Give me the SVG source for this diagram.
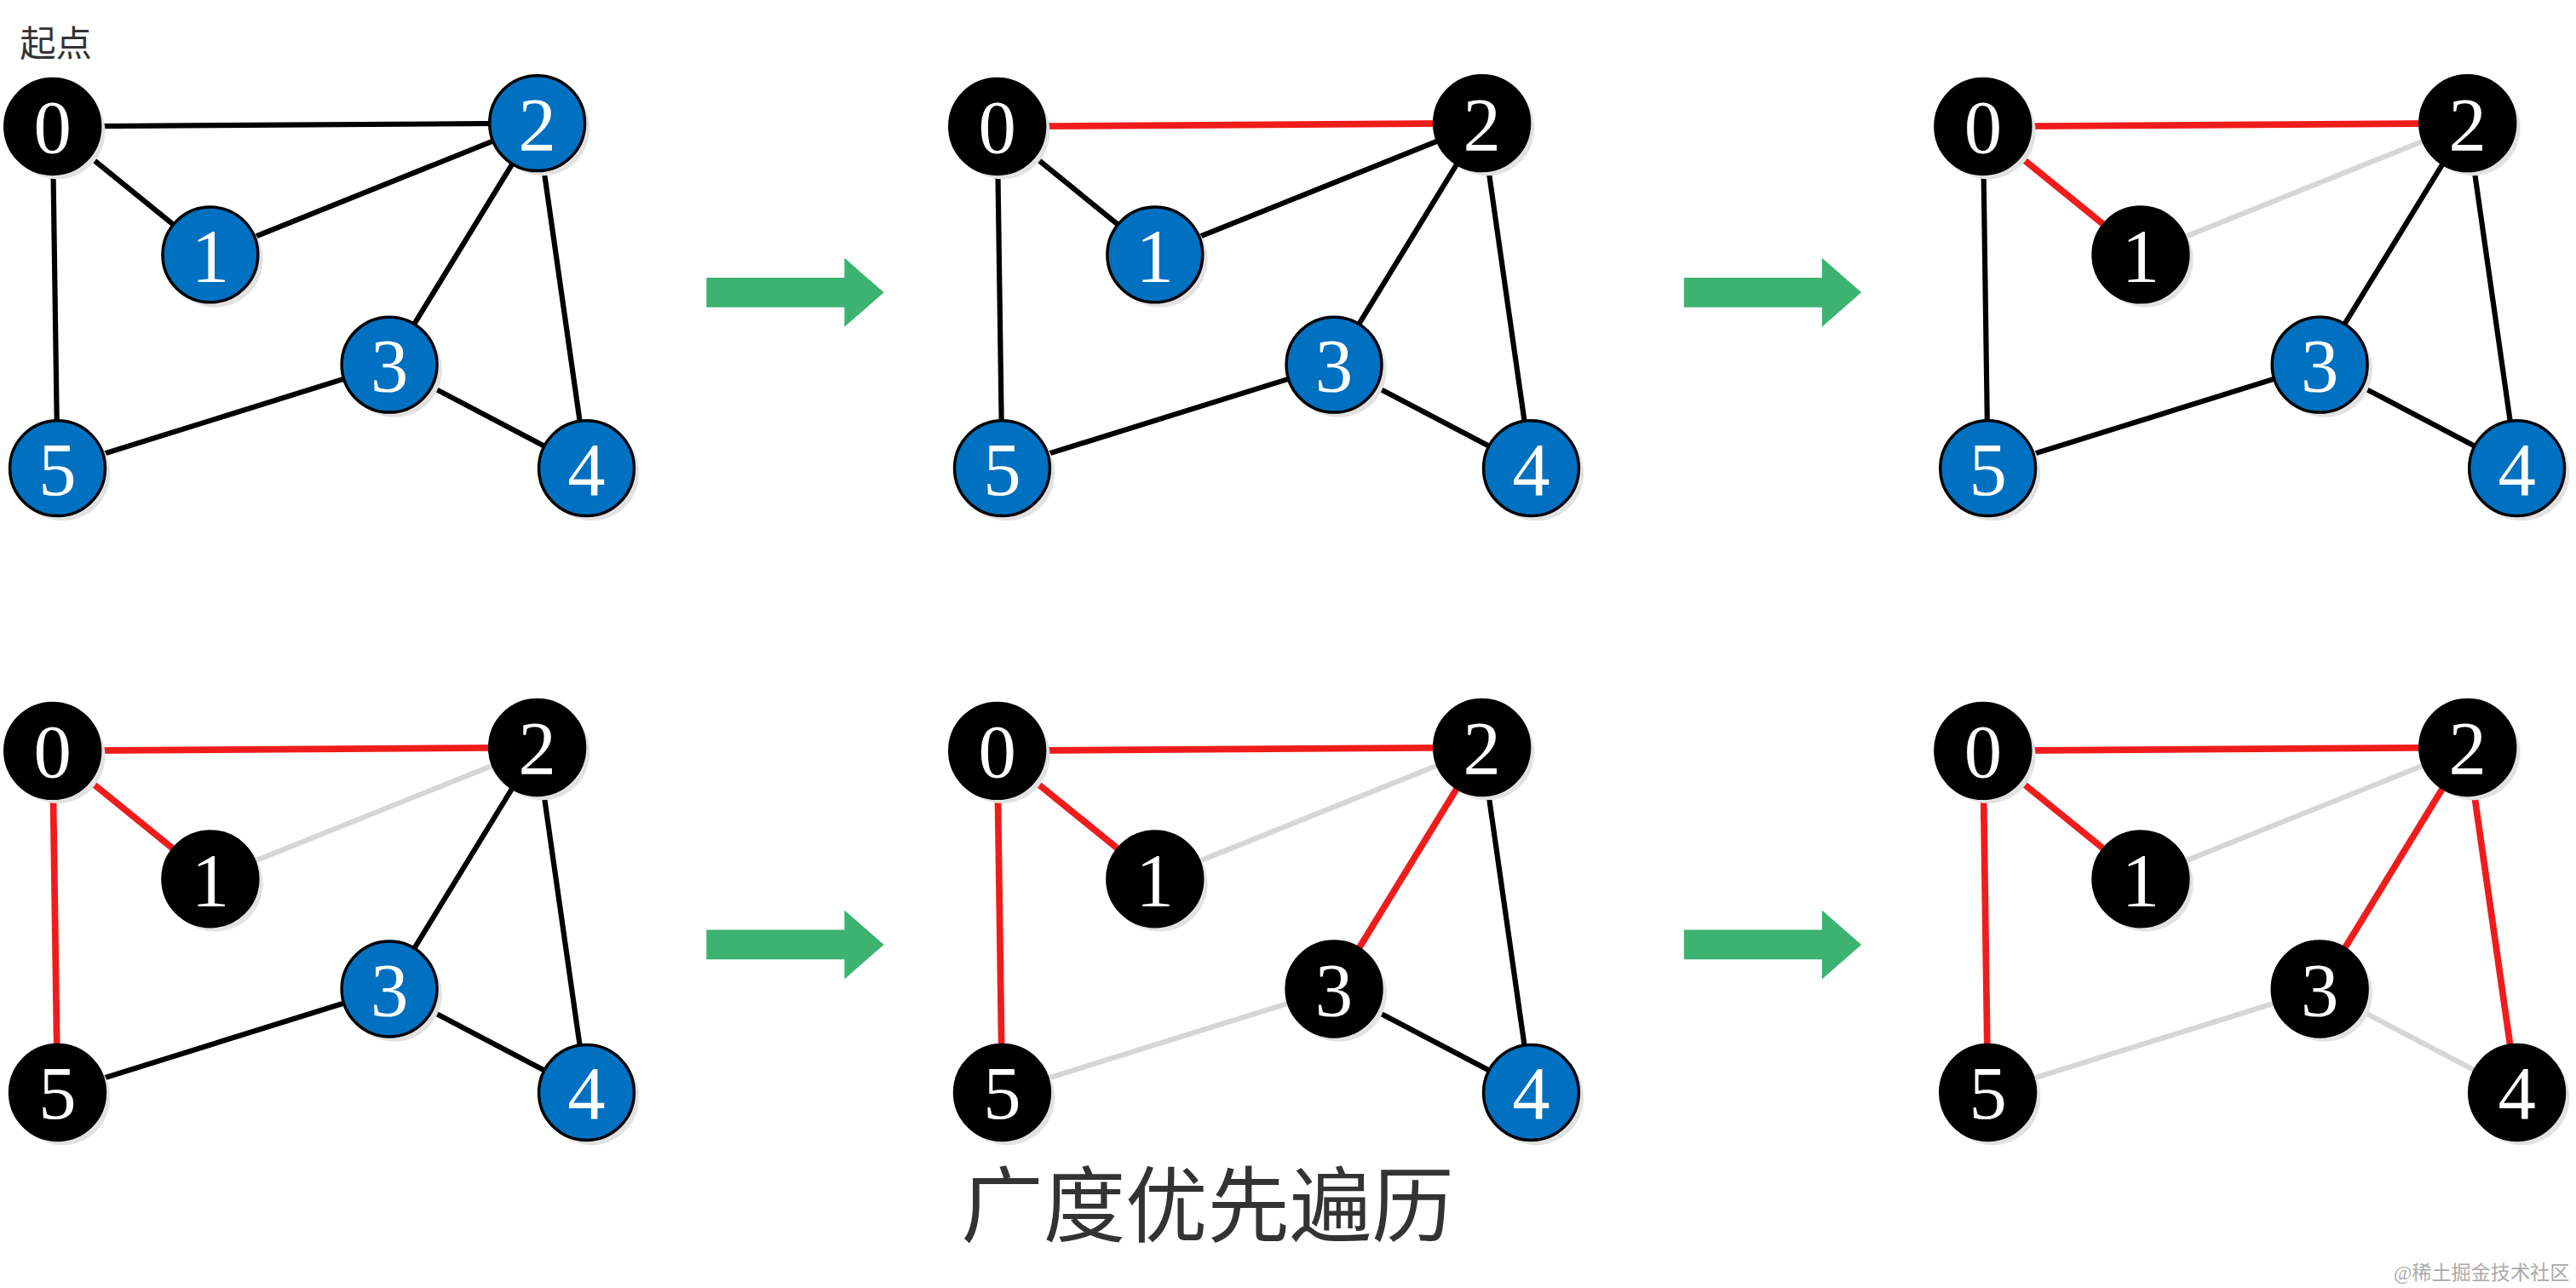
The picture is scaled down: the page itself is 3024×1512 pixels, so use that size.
<svg xmlns="http://www.w3.org/2000/svg" width="3024" height="1512" viewBox="0 0 3024 1512">
<style>
.e{stroke:#000;stroke-width:3.2;fill:none}
.r{stroke:#F01C1C;stroke-width:4}
.g{stroke:#D6D6D6;stroke-width:3.2}
.sh{fill:#E2E2E2}
.b{fill:#0070C0;stroke:#000;stroke-width:1.8}
.k{fill:#000;stroke:#000;stroke-width:1.8}
.t{fill:#fff;font-family:"Liberation Serif",serif;font-size:46px;text-anchor:middle}
.ar{fill:#3CB371}
</style>
<defs>
<g id="arrow"><polygon class="ar" points="0,-9 84,-9 84,-21 108,0 84,21 84,9 0,9"/></g>
</defs>
<rect width="3024" height="1512" fill="#fff"/>
<g transform="scale(1.9286)">
<text x="12" y="34" font-family="'Noto Sans CJK SC',sans-serif" font-size="22" fill="#333">起点</text>
<g id="connectors">
<g transform="translate(0,0)">
<line class="e" x1="32" y1="77" x2="327" y2="75"/><line class="e" x1="32" y1="77" x2="128" y2="155"/><line class="e" x1="128" y1="155" x2="327" y2="75"/><line class="e" x1="32" y1="77" x2="35" y2="285"/><line class="e" x1="327" y1="75" x2="237" y2="222"/><line class="e" x1="327" y1="75" x2="357" y2="285"/><line class="e" x1="237" y1="222" x2="35" y2="285"/><line class="e" x1="237" y1="222" x2="357" y2="285"/>
</g>
<g transform="translate(575,0)">
<line class="e r" x1="32" y1="77" x2="327" y2="75"/><line class="e" x1="32" y1="77" x2="128" y2="155"/><line class="e" x1="128" y1="155" x2="327" y2="75"/><line class="e" x1="32" y1="77" x2="35" y2="285"/><line class="e" x1="327" y1="75" x2="237" y2="222"/><line class="e" x1="327" y1="75" x2="357" y2="285"/><line class="e" x1="237" y1="222" x2="35" y2="285"/><line class="e" x1="237" y1="222" x2="357" y2="285"/>
</g>
<g transform="translate(1175,0)">
<line class="e r" x1="32" y1="77" x2="327" y2="75"/><line class="e r" x1="32" y1="77" x2="128" y2="155"/><line class="e g" x1="128" y1="155" x2="327" y2="75"/><line class="e" x1="32" y1="77" x2="35" y2="285"/><line class="e" x1="327" y1="75" x2="237" y2="222"/><line class="e" x1="327" y1="75" x2="357" y2="285"/><line class="e" x1="237" y1="222" x2="35" y2="285"/><line class="e" x1="237" y1="222" x2="357" y2="285"/>
</g>
<g transform="translate(0,380)">
<line class="e r" x1="32" y1="77" x2="327" y2="75"/><line class="e r" x1="32" y1="77" x2="128" y2="155"/><line class="e g" x1="128" y1="155" x2="327" y2="75"/><line class="e r" x1="32" y1="77" x2="35" y2="285"/><line class="e" x1="327" y1="75" x2="237" y2="222"/><line class="e" x1="327" y1="75" x2="357" y2="285"/><line class="e" x1="237" y1="222" x2="35" y2="285"/><line class="e" x1="237" y1="222" x2="357" y2="285"/>
</g>
<g transform="translate(575,380)">
<line class="e r" x1="32" y1="77" x2="327" y2="75"/><line class="e r" x1="32" y1="77" x2="128" y2="155"/><line class="e g" x1="128" y1="155" x2="327" y2="75"/><line class="e r" x1="32" y1="77" x2="35" y2="285"/><line class="e r" x1="327" y1="75" x2="237" y2="222"/><line class="e" x1="327" y1="75" x2="357" y2="285"/><line class="e g" x1="237" y1="222" x2="35" y2="285"/><line class="e" x1="237" y1="222" x2="357" y2="285"/>
</g>
<g transform="translate(1175,380)">
<line class="e r" x1="32" y1="77" x2="327" y2="75"/><line class="e r" x1="32" y1="77" x2="128" y2="155"/><line class="e g" x1="128" y1="155" x2="327" y2="75"/><line class="e r" x1="32" y1="77" x2="35" y2="285"/><line class="e r" x1="327" y1="75" x2="237" y2="222"/><line class="e r" x1="327" y1="75" x2="357" y2="285"/><line class="e g" x1="237" y1="222" x2="35" y2="285"/><line class="e g" x1="237" y1="222" x2="357" y2="285"/>
</g>
<use href="#arrow" x="430" y="178"/>
<use href="#arrow" x="1025" y="178"/>
<use href="#arrow" x="430" y="575"/>
<use href="#arrow" x="1025" y="575"/>
</g>
<!-- nodes -->
<g transform="translate(0,0)">
<g id="p1n0"><circle class="sh" cx="35" cy="80" r="29"/><circle class="k" cx="32" cy="77" r="29"/><text class="t" x="32" y="93">0</text></g>
<g id="p1n1"><circle class="sh" cx="131" cy="158" r="29"/><circle class="b" cx="128" cy="155" r="29"/><text class="t" x="128" y="171">1</text></g>
<g id="p1n2"><circle class="sh" cx="330" cy="78" r="29"/><circle class="b" cx="327" cy="75" r="29"/><text class="t" x="327" y="91">2</text></g>
<g id="p1n3"><circle class="sh" cx="240" cy="225" r="29"/><circle class="b" cx="237" cy="222" r="29"/><text class="t" x="237" y="238">3</text></g>
<g id="p1n4"><circle class="sh" cx="360" cy="288" r="29"/><circle class="b" cx="357" cy="285" r="29"/><text class="t" x="357" y="301">4</text></g>
<g id="p1n5"><circle class="sh" cx="38" cy="288" r="29"/><circle class="b" cx="35" cy="285" r="29"/><text class="t" x="35" y="301">5</text></g>
</g>
<g transform="translate(575,0)">
<g id="p2n0"><circle class="sh" cx="35" cy="80" r="29"/><circle class="k" cx="32" cy="77" r="29"/><text class="t" x="32" y="93">0</text></g>
<g id="p2n1"><circle class="sh" cx="131" cy="158" r="29"/><circle class="b" cx="128" cy="155" r="29"/><text class="t" x="128" y="171">1</text></g>
<g id="p2n2"><circle class="sh" cx="330" cy="78" r="29"/><circle class="k" cx="327" cy="75" r="29"/><text class="t" x="327" y="91">2</text></g>
<g id="p2n3"><circle class="sh" cx="240" cy="225" r="29"/><circle class="b" cx="237" cy="222" r="29"/><text class="t" x="237" y="238">3</text></g>
<g id="p2n4"><circle class="sh" cx="360" cy="288" r="29"/><circle class="b" cx="357" cy="285" r="29"/><text class="t" x="357" y="301">4</text></g>
<g id="p2n5"><circle class="sh" cx="38" cy="288" r="29"/><circle class="b" cx="35" cy="285" r="29"/><text class="t" x="35" y="301">5</text></g>
</g>
<g transform="translate(1175,0)">
<g id="p3n0"><circle class="sh" cx="35" cy="80" r="29"/><circle class="k" cx="32" cy="77" r="29"/><text class="t" x="32" y="93">0</text></g>
<g id="p3n1"><circle class="sh" cx="131" cy="158" r="29"/><circle class="k" cx="128" cy="155" r="29"/><text class="t" x="128" y="171">1</text></g>
<g id="p3n2"><circle class="sh" cx="330" cy="78" r="29"/><circle class="k" cx="327" cy="75" r="29"/><text class="t" x="327" y="91">2</text></g>
<g id="p3n3"><circle class="sh" cx="240" cy="225" r="29"/><circle class="b" cx="237" cy="222" r="29"/><text class="t" x="237" y="238">3</text></g>
<g id="p3n4"><circle class="sh" cx="360" cy="288" r="29"/><circle class="b" cx="357" cy="285" r="29"/><text class="t" x="357" y="301">4</text></g>
<g id="p3n5"><circle class="sh" cx="38" cy="288" r="29"/><circle class="b" cx="35" cy="285" r="29"/><text class="t" x="35" y="301">5</text></g>
</g>
<g transform="translate(0,380)">
<g id="p4n0"><circle class="sh" cx="35" cy="80" r="29"/><circle class="k" cx="32" cy="77" r="29"/><text class="t" x="32" y="93">0</text></g>
<g id="p4n1"><circle class="sh" cx="131" cy="158" r="29"/><circle class="k" cx="128" cy="155" r="29"/><text class="t" x="128" y="171">1</text></g>
<g id="p4n2"><circle class="sh" cx="330" cy="78" r="29"/><circle class="k" cx="327" cy="75" r="29"/><text class="t" x="327" y="91">2</text></g>
<g id="p4n3"><circle class="sh" cx="240" cy="225" r="29"/><circle class="b" cx="237" cy="222" r="29"/><text class="t" x="237" y="238">3</text></g>
<g id="p4n4"><circle class="sh" cx="360" cy="288" r="29"/><circle class="b" cx="357" cy="285" r="29"/><text class="t" x="357" y="301">4</text></g>
<g id="p4n5"><circle class="sh" cx="38" cy="288" r="29"/><circle class="k" cx="35" cy="285" r="29"/><text class="t" x="35" y="301">5</text></g>
</g>
<g transform="translate(575,380)">
<g id="p5n0"><circle class="sh" cx="35" cy="80" r="29"/><circle class="k" cx="32" cy="77" r="29"/><text class="t" x="32" y="93">0</text></g>
<g id="p5n1"><circle class="sh" cx="131" cy="158" r="29"/><circle class="k" cx="128" cy="155" r="29"/><text class="t" x="128" y="171">1</text></g>
<g id="p5n2"><circle class="sh" cx="330" cy="78" r="29"/><circle class="k" cx="327" cy="75" r="29"/><text class="t" x="327" y="91">2</text></g>
<g id="p5n3"><circle class="sh" cx="240" cy="225" r="29"/><circle class="k" cx="237" cy="222" r="29"/><text class="t" x="237" y="238">3</text></g>
<g id="p5n4"><circle class="sh" cx="360" cy="288" r="29"/><circle class="b" cx="357" cy="285" r="29"/><text class="t" x="357" y="301">4</text></g>
<g id="p5n5"><circle class="sh" cx="38" cy="288" r="29"/><circle class="k" cx="35" cy="285" r="29"/><text class="t" x="35" y="301">5</text></g>
</g>
<g transform="translate(1175,380)">
<g id="p6n0"><circle class="sh" cx="35" cy="80" r="29"/><circle class="k" cx="32" cy="77" r="29"/><text class="t" x="32" y="93">0</text></g>
<g id="p6n1"><circle class="sh" cx="131" cy="158" r="29"/><circle class="k" cx="128" cy="155" r="29"/><text class="t" x="128" y="171">1</text></g>
<g id="p6n2"><circle class="sh" cx="330" cy="78" r="29"/><circle class="k" cx="327" cy="75" r="29"/><text class="t" x="327" y="91">2</text></g>
<g id="p6n3"><circle class="sh" cx="240" cy="225" r="29"/><circle class="k" cx="237" cy="222" r="29"/><text class="t" x="237" y="238">3</text></g>
<g id="p6n4"><circle class="sh" cx="360" cy="288" r="29"/><circle class="k" cx="357" cy="285" r="29"/><text class="t" x="357" y="301">4</text></g>
<g id="p6n5"><circle class="sh" cx="38" cy="288" r="29"/><circle class="k" cx="35" cy="285" r="29"/><text class="t" x="35" y="301">5</text></g>
</g>
<text x="735" y="752" font-family="'Liberation Serif','Noto Sans CJK SC',serif" font-size="50" fill="#333" text-anchor="middle">广度优先遍历</text>
<text x="1564" y="779" font-family="'Liberation Serif','Noto Sans CJK SC',serif" font-size="12" fill="#aaa" text-anchor="end">@稀土掘金技术社区</text>
</g>
</svg>
